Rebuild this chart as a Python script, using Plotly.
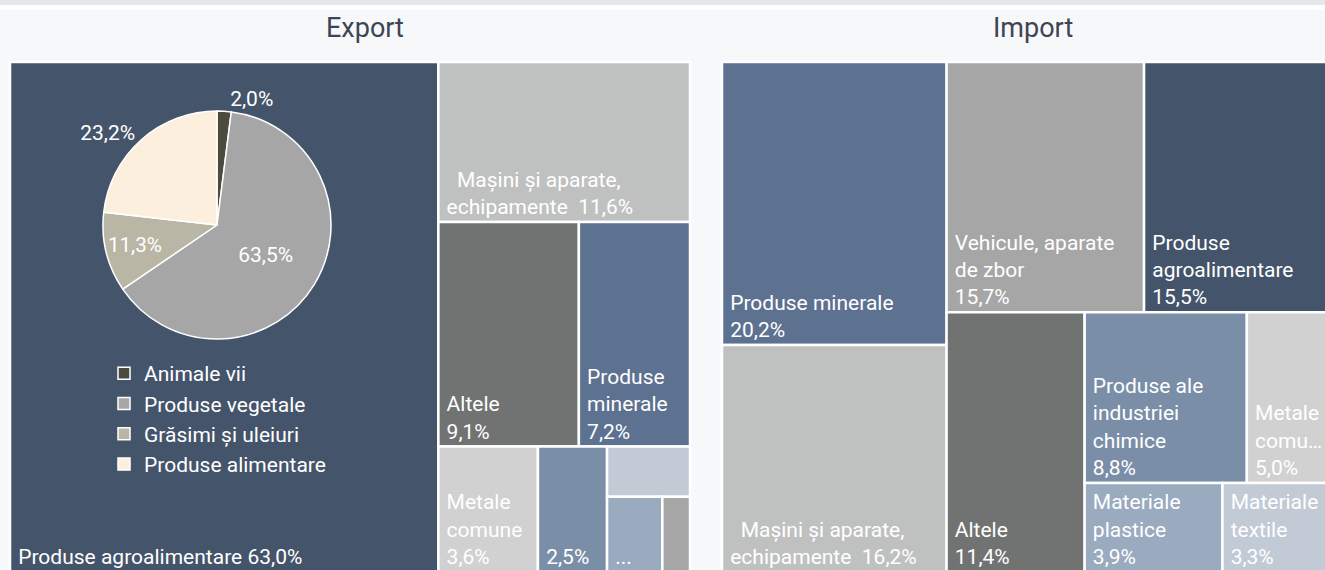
import plotly.graph_objects as go

# the reference is a crop of a slightly wider page, so the figure is a bit
# larger than the 1325x570 window and the overflow is hidden
W, H = 1340, 572

# Export (% din total)
export_labels = ["Produse agroalimentare", "Mașini și aparate, echipamente", "Altele",
                 "Produse minerale", "Metale comune", "Produse ale industriei chimice",
                 "Materiale textile", "Materiale plastice", "Vehicule, aparate de zbor"]
export_values = [63.0, 11.6, 9.1, 7.2, 3.6, 2.5, 1.2, 1.2, 0.6]
export_short = ["Produse agroalimentare", "\u00a0\u00a0Mașini și aparate,<br>echipamente ", "Altele",
                "Produse<br>minerale", "Metale<br>comune", "", None, "...", None]

# Import (% din total)
import_labels = ["Produse minerale", "Mașini și aparate, echipamente", "Vehicule, aparate de zbor",
                 "Produse agroalimentare", "Altele", "Produse ale industriei chimice",
                 "Metale comune", "Materiale plastice", "Materiale textile"]
import_values = [20.2, 16.2, 15.7, 15.5, 11.4, 8.8, 5.0, 3.9, 3.3]
import_short = ["Produse minerale", "\u00a0\u00a0Mașini și aparate,<br>echipamente ",
                "Vehicule, aparate<br>de zbor", "Produse<br>agroalimentare", "Altele",
                "Produse ale<br>industriei<br>chimice", "Metale<br>comu…",
                "Materiale<br>plastice", "Materiale<br>textile"]

# structura exportului agroalimentar
agro_labels = ["Animale vii", "Produse vegetale", "Grăsimi și uleiuri", "Produse alimentare"]
agro_values = [2.0, 63.5, 11.3, 23.2]

colors = {
    "Produse agroalimentare": "#44546b",
    "Mașini și aparate, echipamente": "#bfc1c0",
    "Altele": "#717372",
    "Produse minerale": "#5d7190",
    "Metale comune": "#d1d1d1",
    "Produse ale industriei chimice": "#7a8ea8",
    "Materiale textile": "#c2cad6",
    "Materiale plastice": "#9aaabf",
    "Vehicule, aparate de zbor": "#a6a6a6",
}
agro_colors = ["#4d4a3e", "#a6a6a6", "#b9b6a5", "#fcefde"]

NB = "\u00a0"


def fmt(v):
    return f"{v:.1f}%".replace(".", ",")


def tile_text(short, values):
    out = []
    for s, v in zip(short, values):
        if s is None:
            t = ""
        elif s == "...":
            t = s
        elif s == "":
            t = fmt(v)
        elif s.endswith(" "):
            t = s.rstrip() + "  " + fmt(v)
        elif v > 50:
            t = s + " " + fmt(v)
        else:
            t = s + "<br>" + fmt(v)
        # small left padding inside the tile
        if t:
            t = NB + t.replace("<br>", "<br>" + NB)
        out.append(t)
    return out


def px_x(p):
    return p / W


def px_y(p):
    return 1 - p / H


fig = go.Figure()

for labels, values, short, x0, x1, ratio in [
    (export_labels, export_values, export_short, 10, 690, 1.08),
    (import_labels, import_values, import_short, 722, 1339, 1.0),
]:
    fig.add_trace(go.Treemap(
        labels=labels,
        parents=[""] * len(labels),
        values=values,
        text=tile_text(short, values),
        texttemplate="%{text}",
        textposition="bottom left",
        textfont=dict(family="Roboto", size=21, color="white"),
        marker=dict(colors=[colors[l] for l in labels],
                    line=dict(color="white", width=2.5),
                    pad=dict(t=0, l=0, r=0, b=0)),
        tiling=dict(packing="squarify", squarifyratio=ratio, pad=0),
        pathbar=dict(visible=False),
        sort=True,
        hovertemplate="%{label}: %{value:.1f}%<extra></extra>",
        domain=dict(x=[px_x(x0), px_x(x1)], y=[0, px_y(62)]),
    ))

fig.add_trace(go.Pie(
    labels=agro_labels,
    values=agro_values,
    sort=False,
    direction="clockwise",
    marker=dict(colors=agro_colors, line=dict(color="white", width=1.5)),
    texttemplate="%{value:.1f}%",
    textposition=["outside", "inside", "inside", "outside"],
    textfont=dict(family="Roboto", size=21, color="white"),
    insidetextorientation="horizontal",
    hovertemplate="%{label}: %{value:.1f}%<extra></extra>",
    domain=dict(x=[px_x(103), px_x(331)], y=[px_y(339), px_y(111)]),
    showlegend=True,
))

for name, cx in [("Export", 365), ("Import", 1033)]:
    fig.add_annotation(x=px_x(cx), y=px_y(28), xref="paper", yref="paper",
                       xanchor="center", yanchor="middle",
                       text=name, showarrow=False,
                       font=dict(family="Roboto", size=27, color="#3d4555"))

# banda de sus
fig.add_shape(type="rect", xref="paper", yref="paper", x0=0, x1=1, y0=px_y(5), y1=1,
              fillcolor="#e4e7ec", line_width=0, layer="below")
fig.add_shape(type="rect", xref="paper", yref="paper", x0=0, x1=1, y0=px_y(10), y1=px_y(5),
              fillcolor="white", line_width=0, layer="below")

fig.update_layout(
    width=W, height=H,
    margin=dict(l=0, r=0, t=0, b=0),
    paper_bgcolor="#f7f8fa",
    plot_bgcolor="#f7f8fa",
    separators=",.",
    font=dict(family="Roboto", color="white"),
    legend=dict(x=px_x(104), y=px_y(353), xanchor="left", yanchor="top",
                bgcolor="rgba(0,0,0,0)", font=dict(family="Roboto", size=21, color="white"),
                traceorder="normal"),
)

# pie on top of the treemap tile; no page margin, crop like the reference
post = """
document.body.style.margin = '0';
document.body.style.overflow = 'hidden';
var gd = document.getElementById('{plot_id}');
var pl = gd.querySelector('.pielayer');
if (pl) { pl.parentNode.appendChild(pl); }
"""

fig.write_html("out.html", post_script=post, config={"displayModeBar": False})
